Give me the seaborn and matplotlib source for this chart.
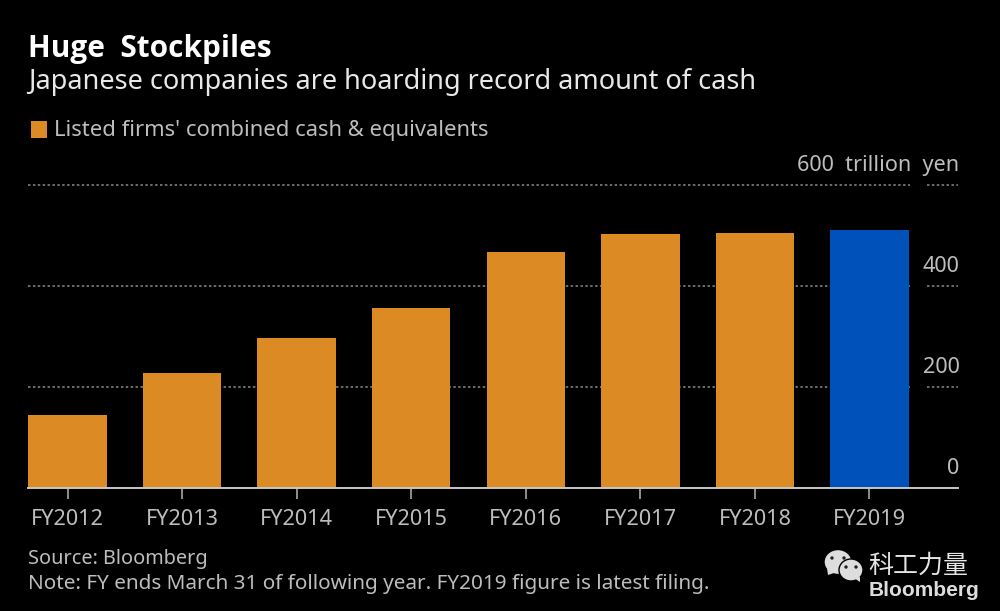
import matplotlib
matplotlib.use("Agg")
import matplotlib.pyplot as plt
from matplotlib.patches import Ellipse, Polygon, Rectangle
import pandas as pd
import seaborn as sns

years = ["FY2012", "FY2013", "FY2014", "FY2015", "FY2016", "FY2017", "FY2018", "FY2019"]
cash = [144, 227, 296, 355, 467, 501, 504, 510]
bar_colors = ["#DC8A24"] * 7 + ["#0051BA"]
y_ticks = [0, 200, 400, 600]
y_labels = ["0", "200", "400", "600  trillion  yen"]

GREY = "#BDBDBD"
W, H = 1000, 611

sns.set_theme(style="dark", rc={"figure.facecolor": "black", "axes.facecolor": "black"})
plt.rcParams["font.family"] = ["Noto Sans", "DejaVu Sans"]

fig = plt.figure(figsize=(10, 6.11), dpi=100, facecolor="black")
ax = fig.add_axes([28 / W, 1 - 487.5 / H, 930 / W, 303 / H])

df = pd.DataFrame({"year": years, "cash": cash})
sns.barplot(data=df, x="year", y="cash", hue="year", palette=bar_colors, legend=False,
            width=0.685, saturation=1, edgecolor="none", linewidth=0, ax=ax, zorder=3)

ax.set_xlim(-0.345, 7.773)
ax.set_ylim(0, 600)
ax.set_xlabel("")
ax.set_ylabel("")
ax.set_yticks([])
ax.grid(False)
for s in ["top", "left", "right"]:
    ax.spines[s].set_visible(False)
ax.spines["bottom"].set_color("#C8C8C8")
ax.spines["bottom"].set_linewidth(1.4)
ax.spines["bottom"].set_zorder(4)
ax.tick_params(axis="x", colors="#A8A8A8", length=8, width=1.2, pad=7.5, labelsize=15.6,
               labelcolor=GREY, bottom=True)

# dotted gridlines, broken around the label column
for t in y_ticks[1:]:
    ax.hlines(t, -0.345, 7.35, color="#8A8A8A", lw=1.1, ls=(0, (1.6, 1.6)), zorder=1, clip_on=False)
    ax.hlines(t, 7.50, 7.773, color="#8A8A8A", lw=1.1, ls=(0, (1.6, 1.6)), zorder=1, clip_on=False)

# y labels sit above their gridlines, right aligned with the end of the rule
for t, lab in zip(y_ticks, y_labels):
    ax.annotate(lab, (1, t), xycoords=("axes fraction", "data"), xytext=(1, 6),
                textcoords="offset points", ha="right", va="bottom", color=GREY, fontsize=15.6)

fig.text(28 / W, 1 - 49 / H, "Huge  Stockpiles", family="Open Sans", color="white", fontsize=21.4,
         fontweight="bold", va="center", ha="left")
fig.text(28 / W, 1 - 82.5 / H, "Japanese companies are hoarding record amount of cash", color="#E8E8E8",
         fontsize=19.55, va="center", ha="left")

fig.patches.append(Rectangle((31 / W, 1 - 137.5 / H), 16 / W, 16 / H, transform=fig.transFigure,
                             facecolor="#DC8A24", edgecolor="none"))
fig.text(54 / W, 1 - 131 / H, "Listed firms' combined cash & equivalents", color=GREY, fontsize=15.85,
         va="center", ha="left")

fig.text(28 / W, 1 - 559 / H, "Source: Bloomberg", color=GREY, fontsize=14.3, va="center", ha="left")
fig.text(28 / W, 1 - 583.5 / H, "Note: FY ends March 31 of following year. FY2019 figure is latest filing.",
         color=GREY, fontsize=14.93, va="center", ha="left")

# wechat style watermark
def bubble(cx, cy, rx, ry, tail, color, z):
    fig.patches.append(Ellipse((cx / W, 1 - cy / H), 2 * rx / W, 2 * ry / H, transform=fig.transFigure,
                               facecolor=color, edgecolor="black", lw=1, zorder=z))
    fig.patches.append(Polygon([(x / W, 1 - y / H) for x, y in tail], transform=fig.transFigure,
                               facecolor=color, edgecolor="none", zorder=z))

def eyes(cx, cy, dx, z):
    for sx in (-dx, dx):
        fig.patches.append(Ellipse(((cx + sx) / W, 1 - cy / H), 3.4 / W, 3.4 / H, transform=fig.transFigure,
                                   facecolor="#222222", edgecolor="none", zorder=z))

bubble(838, 562, 14, 12.5, [(827, 568), (834, 573), (828, 575)], "#DDDDDD", 5)
eyes(838, 558, 6, 6)
bubble(851, 570, 12, 11, [(854, 578), (860, 577), (860, 582)], "#DDDDDD", 7)
eyes(851, 567, 5, 8)

fig.text(868 / W, 1 - 566 / H, "科工力量", family=["Noto Sans CJK SC", "DejaVu Sans"], color="#E6E6E6",
         fontsize=18, va="center", ha="left")
fig.text(979 / W, 1 - 591 / H, "Bloomberg", family=["Liberation Sans", "DejaVu Sans"], color="#DDDDDD",
         fontsize=15, fontweight="bold", va="center", ha="right")

fig.savefig("out.png", dpi=100, facecolor="black")
